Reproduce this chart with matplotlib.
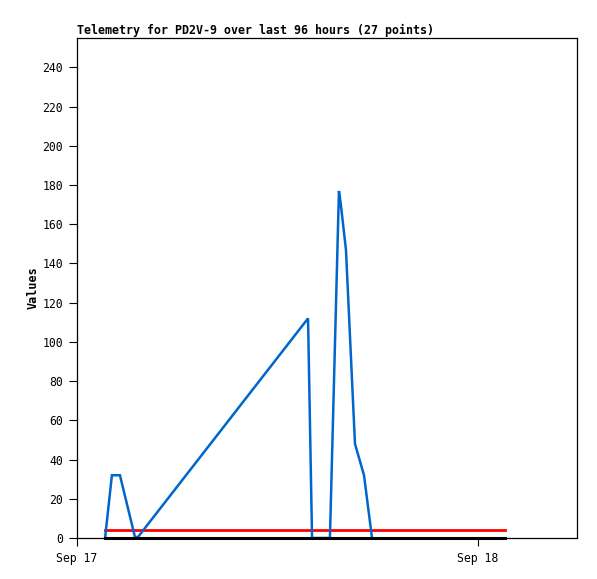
import matplotlib
matplotlib.use("Agg")
import matplotlib.pyplot as plt
import matplotlib.dates as mdates
from datetime import datetime, timedelta

base = datetime(2024, 9, 17)
title = "Telemetry for PD2V-9 over last 96 hours (27 points)"

# series: hours offset from Sep 17 00:00, values
blue_hours = [1.68, 2.09, 2.57, 3.47, 3.65, 13.83, 14.07, 15.14, 15.68, 15.78, 16.10, 16.64, 17.18, 17.66]
blue_vals = [0, 32, 32, 0.5, 0.5, 112, 0, 0, 177, 171, 147, 48, 32, 0]
thresh_hours = [1.68, 25.6]
thresh_vals = [4, 4]
zero_hours = [1.68, 25.6]
zero_vals = [0, 0]
x_start_hours = 0
x_end_hours = 29.93
y_ticks = list(range(0, 241, 20))

def to_dt(hs):
    return [base + timedelta(hours=h) for h in hs]

plt.rcParams['font.family'] = ['DejaVu Sans Mono']
fig = plt.figure(figsize=(5.97, 5.79), dpi=100)
ax = fig.add_axes([77/597, 1-538/579, 500/597, 500/579])

ax.plot(to_dt(blue_hours), blue_vals, color='#0066cc', lw=1.8, zorder=3, solid_joinstyle='miter')
ax.plot(to_dt(thresh_hours), thresh_vals, color='#ff0000', lw=2.0, zorder=2)
ax.plot(to_dt(zero_hours), zero_vals, color='#000000', lw=2.2, zorder=4, clip_on=False)

ax.set_xlim(to_dt([x_start_hours])[0], to_dt([x_end_hours])[0])
ax.set_ylim(0, 255)
ax.set_yticks(y_ticks)
ax.xaxis.set_major_locator(mdates.DayLocator())
ax.xaxis.set_major_formatter(mdates.DateFormatter('%b %d'))
ax.tick_params(axis='both', labelsize=8.3, length=6, width=0.8, color='black', pad=4)
for s in ax.spines.values():
    s.set_linewidth(0.9)
ax.set_ylabel('Values', fontsize=8.5, fontweight='bold', labelpad=2)
ax.set_title(title, fontsize=8.4, fontweight='bold', loc='left', pad=3)

fig.savefig('out.png', dpi=100)
